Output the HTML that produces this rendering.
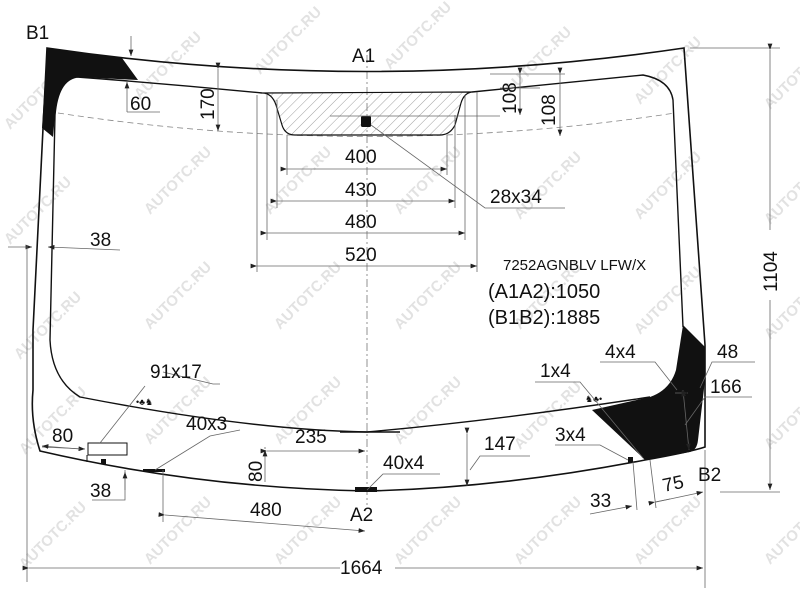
<!DOCTYPE html>
<html><head><style>
html,body{margin:0;padding:0;background:#fff;}
svg{display:block;font-family:"Liberation Sans",Arial,sans-serif;}
.wm{fill:#e2e2e2;font-size:15px;font-weight:bold;}
.t{font-size:19px;fill:#111;}
.d{stroke:#666;stroke-width:0.8;fill:none;}
</style></head><body>
<svg width="800" height="600" viewBox="0 0 800 600" xmlns="http://www.w3.org/2000/svg">
<defs>
<pattern id="h" width="7" height="7" patternUnits="userSpaceOnUse" patternTransform="rotate(45)">
<line x1="0" y1="0" x2="0" y2="7" stroke="#777" stroke-width="0.7"/></pattern>
<marker id="a" markerWidth="8" markerHeight="6" refX="8" refY="3" orient="auto"><path d="M0,0 L8,3 L0,6z" fill="#222"/></marker>
</defs>
<g class="wm">
<text transform="translate(10,130) rotate(-45)">AUTOTC.RU</text>
<text transform="translate(140,100) rotate(-45)">AUTOTC.RU</text>
<text transform="translate(260,75) rotate(-45)">AUTOTC.RU</text>
<text transform="translate(390,70) rotate(-45)">AUTOTC.RU</text>
<text transform="translate(510,95) rotate(-45)">AUTOTC.RU</text>
<text transform="translate(640,105) rotate(-45)">AUTOTC.RU</text>
<text transform="translate(770,110) rotate(-45)">AUTOTC.RU</text>
<text transform="translate(10,245) rotate(-45)">AUTOTC.RU</text>
<text transform="translate(150,215) rotate(-45)">AUTOTC.RU</text>
<text transform="translate(270,215) rotate(-45)">AUTOTC.RU</text>
<text transform="translate(400,215) rotate(-45)">AUTOTC.RU</text>
<text transform="translate(520,220) rotate(-45)">AUTOTC.RU</text>
<text transform="translate(640,220) rotate(-45)">AUTOTC.RU</text>
<text transform="translate(770,225) rotate(-45)">AUTOTC.RU</text>
<text transform="translate(20,360) rotate(-45)">AUTOTC.RU</text>
<text transform="translate(150,330) rotate(-45)">AUTOTC.RU</text>
<text transform="translate(280,330) rotate(-45)">AUTOTC.RU</text>
<text transform="translate(400,330) rotate(-45)">AUTOTC.RU</text>
<text transform="translate(520,330) rotate(-45)">AUTOTC.RU</text>
<text transform="translate(640,335) rotate(-45)">AUTOTC.RU</text>
<text transform="translate(770,340) rotate(-45)">AUTOTC.RU</text>
<text transform="translate(25,455) rotate(-45)">AUTOTC.RU</text>
<text transform="translate(150,445) rotate(-45)">AUTOTC.RU</text>
<text transform="translate(280,445) rotate(-45)">AUTOTC.RU</text>
<text transform="translate(400,445) rotate(-45)">AUTOTC.RU</text>
<text transform="translate(520,450) rotate(-45)">AUTOTC.RU</text>
<text transform="translate(640,450) rotate(-45)">AUTOTC.RU</text>
<text transform="translate(770,450) rotate(-45)">AUTOTC.RU</text>
<text transform="translate(25,570) rotate(-45)">AUTOTC.RU</text>
<text transform="translate(150,565) rotate(-45)">AUTOTC.RU</text>
<text transform="translate(280,565) rotate(-45)">AUTOTC.RU</text>
<text transform="translate(400,565) rotate(-45)">AUTOTC.RU</text>
<text transform="translate(520,565) rotate(-45)">AUTOTC.RU</text>
<text transform="translate(640,565) rotate(-45)">AUTOTC.RU</text>
<text transform="translate(770,565) rotate(-45)">AUTOTC.RU</text>
</g>

<!-- center axis -->
<line x1="367" y1="55" x2="367" y2="505" stroke="#777" stroke-width="0.8" stroke-dasharray="8,3,2,3"/>
<!-- dashed line -->
<path d="M58,113 Q367,160 675,113" fill="none" stroke="#888" stroke-width="0.8" stroke-dasharray="6,4"/>

<!-- hatched band -->
<path d="M262,93 Q272,93 276,105 L282,125 Q285,135 295,135 L440,135 Q450,135 455,125 L461,103 Q464,93 472,92 Z" fill="url(#h)" stroke="#111" stroke-width="1.2"/>
<rect x="361" y="116" width="10" height="11" rx="1.5" fill="#111"/>

<!-- outer glass -->
<path d="M47,48 Q367,95 684,48 L705,345 L705,447 Q690,452 645,460 Q500,488 367,491 Q200,488 40,451 Q30,420 33,390 L33,330 Z" fill="none" stroke="#111" stroke-width="1.6"/>
<!-- inner -->
<path d="M77,77 Q170,84 262,93 M472,92 L643,75 Q670,80 673,100 L683,327 M650,397 Q500,420 367,432 Q250,430 80,397 Q52,380 50,340 L55,115 Q58,80 77,77" fill="none" stroke="#111" stroke-width="1.4"/>
<!-- black corners -->
<path d="M47,48 L122,58 L138,80 L77,77 Q58,80 55,115 L53,137 L42,128 Z" fill="#111"/>
<path d="M683,325 L705,347 L705,380 L698,440 Q697,450 690,452 L645,460 L640,455 L592,410 L650,397 Q670,390 676,370 Z" fill="#111"/>
<rect x="628" y="457" width="5" height="6" fill="#111"/>
<rect x="355" y="487" width="22" height="5" fill="#111"/>
<rect x="143" y="469" width="22" height="3" fill="#111"/>
<rect x="88" y="443" width="39" height="12" fill="#fff" stroke="#111" stroke-width="1"/>
<rect x="101" y="459" width="5" height="5" fill="#111"/>
<line x1="87" y1="455" x2="87" y2="462" stroke="#111"/>
<text x="136" y="405" font-size="9" fill="#111">•♣♞</text>
<text x="585" y="402" font-size="9" fill="#111">♞♣•</text>

<!-- top dims -->
<g class="d">
<line x1="257" y1="95" x2="257" y2="272"/><line x1="267" y1="95" x2="267" y2="240"/>
<line x1="277" y1="100" x2="277" y2="208"/><line x1="287" y1="135" x2="287" y2="175"/>
<line x1="447" y1="135" x2="447" y2="175"/><line x1="455" y1="115" x2="455" y2="208"/>
<line x1="465" y1="95" x2="465" y2="240"/><line x1="477" y1="92" x2="477" y2="272"/>
<line x1="287" y1="169" x2="447" y2="169" marker-start="url(#a)" marker-end="url(#a)"/>
<line x1="277" y1="201" x2="455" y2="201" marker-start="url(#a)" marker-end="url(#a)"/>
<line x1="267" y1="233" x2="465" y2="233" marker-start="url(#a)" marker-end="url(#a)"/>
<line x1="257" y1="266" x2="477" y2="266" marker-start="url(#a)" marker-end="url(#a)"/>
<line x1="218" y1="69" x2="218" y2="131" marker-start="url(#a)" marker-end="url(#a)"/>
<line x1="127" y1="112" x2="127" y2="82" marker-end="url(#a)"/><line x1="127" y1="112" x2="160" y2="112"/>
<line x1="131" y1="36" x2="131" y2="56" marker-end="url(#a)"/>
<line x1="8" y1="247" x2="32" y2="247" marker-end="url(#a)"/><line x1="120" y1="250" x2="48" y2="247" marker-end="url(#a)"/>
<line x1="490" y1="74" x2="565" y2="74"/><line x1="330" y1="116" x2="500" y2="116"/><line x1="500" y1="88" x2="540" y2="88"/>
<line x1="520" y1="74" x2="520" y2="115" marker-start="url(#a)" marker-end="url(#a)"/>
<line x1="560" y1="74" x2="560" y2="136" marker-start="url(#a)" marker-end="url(#a)"/>
<polyline points="371,125 485,208 565,208"/>
<line x1="690" y1="48" x2="780" y2="48"/><line x1="720" y1="492" x2="780" y2="492"/>
<line x1="770" y1="50" x2="770" y2="230" marker-start="url(#a)"/><line x1="770" y1="300" x2="770" y2="490" marker-end="url(#a)"/>
<line x1="27" y1="245" x2="27" y2="582"/><line x1="705" y1="450" x2="705" y2="588"/>
<line x1="29" y1="568" x2="340" y2="568" marker-start="url(#a)"/><line x1="395" y1="568" x2="703" y2="568" marker-end="url(#a)"/>
<!-- right labels -->
<polyline points="600,362 655,362 677,390"/><polyline points="755,362 712,362 700,388"/>
<polyline points="752,397 705,397 685,425"/>
<polyline points="535,382 580,382 643,458"/>
<polyline points="555,445 600,445 628,460"/>
<line x1="675" y1="393" x2="688" y2="393" marker-end="url(#a)"/>
<line x1="686" y1="420" x2="683" y2="390" marker-end="url(#a)"/>
<line x1="686" y1="420" x2="689" y2="450" marker-end="url(#a)"/>
<line x1="467" y1="434" x2="467" y2="486" marker-start="url(#a)" marker-end="url(#a)"/>
<polyline points="470,470 480,456 530,456"/>
<polyline points="367,490 383,474 440,474"/>
<line x1="633" y1="462" x2="637" y2="510"/><line x1="650" y1="460" x2="656" y2="508"/>
<line x1="590" y1="514" x2="632" y2="506" marker-end="url(#a)"/>
<line x1="656" y1="502" x2="703" y2="492" marker-end="url(#a)"/>
<line x1="655" y1="502" x2="670" y2="499" marker-start="url(#a)"/>
<!-- left bottom -->
<polyline points="163,372 213,384 220,384"/><line x1="100" y1="443" x2="145" y2="386"/>
<polyline points="240,430 210,436 155,470"/>
<line x1="42" y1="447" x2="85" y2="449" marker-end="url(#a)"/><line x1="80" y1="449" x2="42" y2="446" marker-end="url(#a)"/>
<polyline points="125,470 125,500 92,500"/>
<line x1="125" y1="490" x2="125" y2="472" marker-end="url(#a)"/>
<line x1="163" y1="470" x2="163" y2="522"/>
<line x1="165" y1="515" x2="365" y2="531" marker-start="url(#a)" marker-end="url(#a)"/>
<line x1="265" y1="482" x2="265" y2="450" marker-end="url(#a)"/><line x1="265" y1="449" x2="265" y2="447"/>
<line x1="267" y1="451" x2="365" y2="451" marker-start="url(#a)" marker-end="url(#a)"/>
</g>
<line x1="340" y1="432" x2="400" y2="432" stroke="#111" stroke-width="1.4"/>

<!-- texts -->
<g class="t">
<text x="26" y="39">B1</text>
<text x="352" y="62">A1</text>
<text x="130" y="110">60</text>
<text x="90" y="246">38</text>
<text x="345" y="163">400</text>
<text x="345" y="196">430</text>
<text x="345" y="228">480</text>
<text x="345" y="261">520</text>
<text x="490" y="203">28x34</text>
<text transform="translate(214,120) rotate(-90)">170</text>
<text transform="translate(516,114) rotate(-90)">108</text>
<text transform="translate(555,126) rotate(-90)">108</text>
<text transform="translate(777,292) rotate(-90)">1104</text>
<text x="503" y="270" font-size="15">7252AGNBLV LFW/X</text>
<text x="488" y="298" font-size="20">(A1A2):1050</text>
<text x="488" y="324" font-size="20">(B1B2):1885</text>
<text x="605" y="358">4x4</text>
<text x="717" y="358">48</text>
<text x="710" y="393">166</text>
<text x="540" y="377">1x4</text>
<text x="555" y="441">3x4</text>
<text x="484" y="450">147</text>
<text x="383" y="469">40x4</text>
<text x="350" y="521">A2</text>
<text x="698" y="481">B2</text>
<text transform="translate(664,492) rotate(-12)">75</text>
<text x="590" y="507">33</text>
<text x="150" y="378">91x17</text>
<text x="186" y="430">40x3</text>
<text x="295" y="443">235</text>
<text x="52" y="442">80</text>
<text transform="translate(262,482) rotate(-90)">80</text>
<text x="90" y="497">38</text>
<text x="250" y="516">480</text>
<text x="340" y="574">1664</text>
</g>
</svg>
</body></html>
